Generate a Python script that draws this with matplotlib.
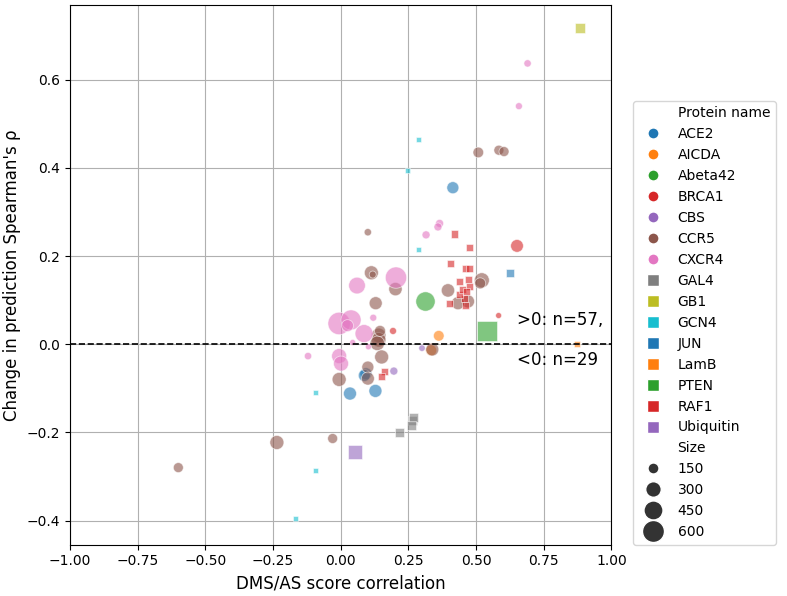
import pandas as pd
import matplotlib
matplotlib.use("Agg")
import matplotlib.pyplot as plt
from matplotlib.lines import Line2D

# protein order, colours cycle through tab10
proteins = ["ACE2", "AICDA", "Abeta42", "BRCA1", "CBS", "CCR5", "CXCR4",
            "GAL4", "GB1", "GCN4", "JUN", "LamB", "PTEN", "RAF1", "Ubiquitin"]
tab10 = plt.get_cmap("tab10").colors
colors = {p: tab10[i % 10] for i, p in enumerate(proteins)}
markers = {p: ("o" if i < 7 else "s") for i, p in enumerate(proteins)}

# one entry per point
protein_name = [
    "GB1", "CXCR4", "CXCR4", "CCR5", "CCR5", "CCR5", "ACE2", "GCN4", "GCN4", "GCN4",
    "CCR5", "CXCR4", "CXCR4", "CXCR4", "RAF1", "RAF1", "RAF1", "RAF1", "RAF1", "BRCA1",
    "JUN", "CXCR4", "CXCR4", "CCR5", "CCR5", "CCR5", "Abeta42", "CCR5", "CCR5", "CCR5",
    "CCR5", "CXCR4", "CXCR4", "CXCR4", "CXCR4", "BRCA1", "CCR5", "CCR5", "CXCR4", "AICDA",
    "PTEN", "BRCA1", "RAF1", "RAF1", "RAF1", "RAF1", "RAF1", "RAF1", "CCR5", "CCR5",
    "RAF1", "RAF1", "LamB", "CCR5", "CCR5", "RAF1", "CXCR4",
    # below zero
    "CXCR4", "AICDA", "CCR5", "CBS", "CXCR4", "CXCR4", "CXCR4", "CCR5", "CCR5", "ACE2",
    "RAF1", "RAF1", "CBS", "CCR5", "ACE2", "ACE2", "ACE2", "CCR5", "GCN4", "GAL4",
    "GAL4", "GAL4", "GAL4", "CCR5", "CCR5", "Ubiquitin", "GCN4", "CCR5", "GCN4",
]
dms_corr = [
    0.884, 0.690, 0.658, 0.508, 0.584, 0.603, 0.414, 0.286, 0.245, 0.286,
    0.100, 0.365, 0.359, 0.315, 0.419, 0.477, 0.404, 0.459, 0.476, 0.651,
    0.625, 0.204, 0.060, 0.113, 0.118, 0.202, 0.312, 0.396, 0.521, 0.515,
    0.129, -0.006, 0.038, 0.025, 0.086, 0.193, 0.140, 0.140, 0.044, 0.362,
    0.541, 0.583, 0.439, 0.473, 0.476, 0.402, 0.457, 0.439, 0.470, 0.433,
    0.450, 0.460, 0.871, 0.135, 0.145, 0.465, 0.120,
    0.102, 0.334, 0.338, 0.300, -0.121, -0.006, 0.001, 0.151, 0.100, 0.093,
    0.161, 0.149, 0.196, -0.006, 0.034, 0.128, 0.087, 0.100, -0.092, 0.217,
    0.264, 0.268, 0.260, -0.236, -0.030, 0.054, -0.092, -0.600, -0.167,
]
delta_rho = [
    0.718, 0.637, 0.540, 0.435, 0.440, 0.437, 0.355, 0.464, 0.394, 0.214,
    0.254, 0.274, 0.266, 0.248, 0.250, 0.220, 0.184, 0.171, 0.171, 0.223,
    0.162, 0.151, 0.133, 0.162, 0.158, 0.125, 0.097, 0.122, 0.145, 0.138,
    0.093, 0.047, 0.055, 0.042, 0.024, 0.030, 0.020, 0.010, 0.004, 0.019,
    0.030, 0.065, 0.142, 0.146, 0.131, 0.093, 0.103, 0.112, 0.097, 0.093,
    0.125, 0.088, 0.001, 0.002, 0.030, 0.120, 0.060,
    -0.006, -0.014, -0.012, -0.009, -0.027, -0.027, -0.044, -0.029, -0.052, -0.067,
    -0.061, -0.073, -0.061, -0.080, -0.112, -0.106, -0.071, -0.078, -0.109, -0.200,
    -0.173, -0.166, -0.185, -0.223, -0.214, -0.244, -0.286, -0.280, -0.395,
]
size = [
    123, 66, 60, 140, 123, 123, 178, 31, 31, 31,
    66, 79, 79, 79, 66, 60, 60, 60, 60, 200,
    70, 560, 343, 242, 60, 220, 460, 220, 278, 150,
    209, 620, 494, 178, 400, 60, 260, 260, 44, 140,
    528, 44, 60, 60, 60, 60, 60, 60, 209, 209,
    60, 60, 31, 260, 150, 60, 60,
    44, 149, 209, 52, 66, 278, 278, 242, 178, 178,
    60, 60, 79, 242, 209, 209, 178, 209, 31, 100,
    100, 100, 100, 242, 123, 220, 31, 123, 31,
]

df = pd.DataFrame({"Protein name": protein_name, "corr": dms_corr,
                   "delta": delta_rho, "Size": size})

n_pos = (df["delta"] > 0).sum()
n_neg = (df["delta"] < 0).sum()

scale = 0.42  # points^2 per size unit

fig = plt.figure(figsize=(7.87, 5.96), dpi=100)
ax = fig.add_axes([0.089, 0.086, 0.688, 0.906])
ax.set_axisbelow(True)
ax.grid(True)

for p in proteins:
    sub = df[df["Protein name"] == p]
    ax.scatter(sub["corr"], sub["delta"], s=sub["Size"] * scale, c=[colors[p]],
               marker=markers[p], alpha=0.6, edgecolors="white", linewidths=0.6)

ax.axhline(0, color="black", linestyle="--", linewidth=1.2)
ax.text(0.65, 0.055, ">0: n=%d," % n_pos, fontsize=12, va="center")
ax.text(0.65, -0.036, "<0: n=%d" % n_neg, fontsize=12, va="center")

ax.set_xlim(-1, 1)
ax.set_ylim(-0.455, 0.77)
ax.set_xlabel("DMS/AS score correlation", fontsize=12)
ax.set_ylabel("Change in prediction Spearman's \u03c1", fontsize=12)

# legend: hue/marker entries then size entries
blank = Line2D([], [], linestyle="none", marker="")
handles = [blank]
labels = ["Protein name"]
for p in proteins:
    handles.append(Line2D([], [], linestyle="none", marker=markers[p], color=colors[p],
                          markeredgecolor="white", markersize=8))
    labels.append(p)
handles.append(blank)
labels.append("Size")
for v in [150, 300, 450, 600]:
    handles.append(Line2D([], [], linestyle="none", marker="o", color="#333333",
                          markeredgecolor="white", markersize=(v * scale) ** 0.5))
    labels.append(str(v))
ax.legend(handles, labels, loc="lower left", bbox_to_anchor=(1.04, 0.0),
          borderaxespad=0.0, frameon=True)

fig.savefig("out.png", dpi=100)
